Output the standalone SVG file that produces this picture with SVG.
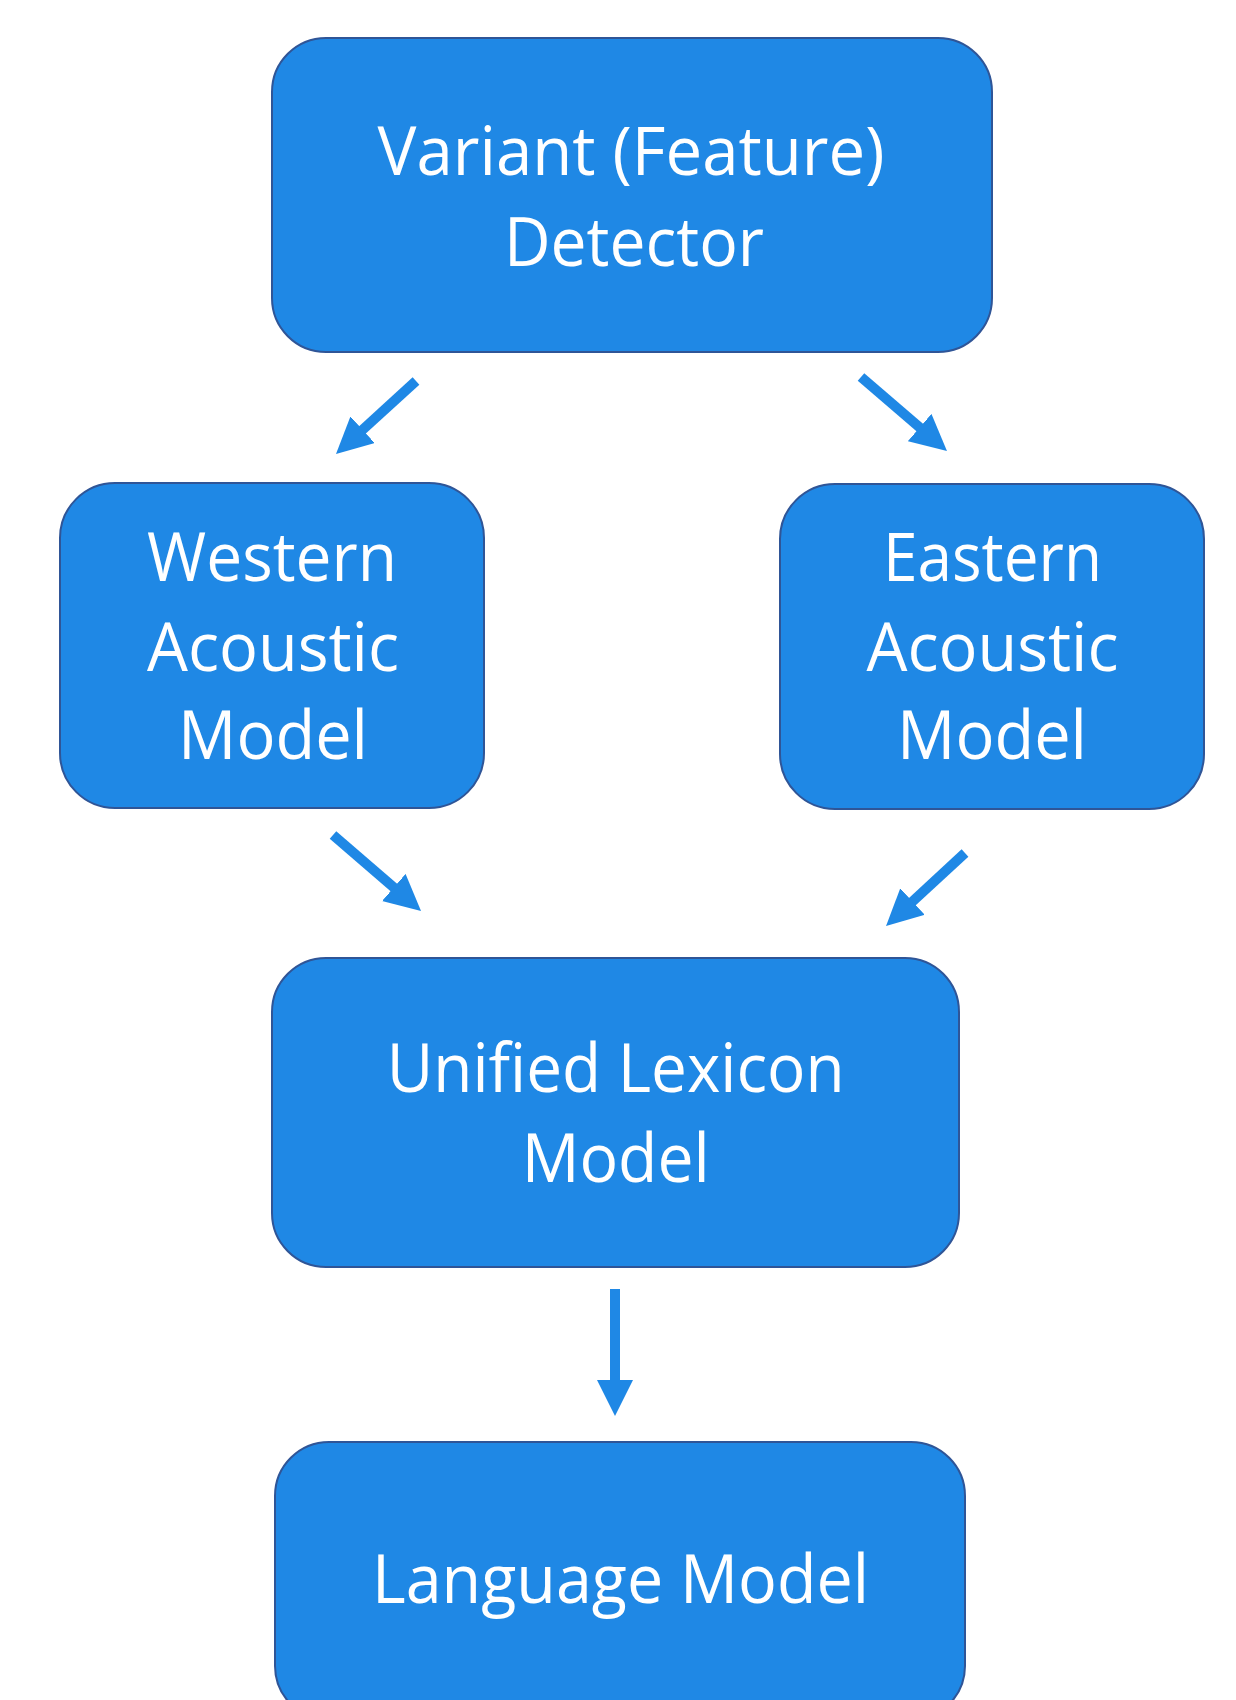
<svg xmlns="http://www.w3.org/2000/svg" width="1236" height="1700" viewBox="0 0 1236 1700">
<style>
.box{fill:#1F88E5;stroke:#2F5597;stroke-width:2}
.lbl{font-family:"Open Sans","Noto Sans",sans-serif;font-size:67px;fill:#FFFFFF;text-anchor:middle}
.arr{stroke:#1F88E5;stroke-width:10;fill:none;marker-end:url(#ah)}
</style>
<defs>
<marker id="ah" markerUnits="userSpaceOnUse" markerWidth="36" markerHeight="36" viewBox="0 0 36 36" refX="2" refY="18" orient="auto">
<path d="M0,0 L36,18 L0,36 z" fill="#1F88E5"/>
</marker>
</defs>
<rect width="1236" height="1700" fill="#FFFFFF"/>
<g id="detector">
<rect class="box" x="272" y="38" width="720" height="314" rx="54" ry="54"/>
<text class="lbl" x="631" y="175" textLength="507" lengthAdjust="spacingAndGlyphs">Variant (Feature)</text>
<text class="lbl" x="634" y="266" textLength="260" lengthAdjust="spacingAndGlyphs">Detector</text>
</g>
<g id="western">
<rect class="box" x="60" y="483" width="424" height="325" rx="55" ry="55"/>
<text class="lbl" x="272" y="581" textLength="250" lengthAdjust="spacingAndGlyphs">Western</text>
<text class="lbl" x="273" y="671" textLength="252" lengthAdjust="spacingAndGlyphs">Acoustic</text>
<text class="lbl" x="273" y="759" textLength="190" lengthAdjust="spacingAndGlyphs">Model</text>
</g>
<g id="eastern">
<rect class="box" x="780" y="484" width="424" height="325" rx="55" ry="55"/>
<text class="lbl" x="992.5" y="581" textLength="219" lengthAdjust="spacingAndGlyphs">Eastern</text>
<text class="lbl" x="992.5" y="671" textLength="252" lengthAdjust="spacingAndGlyphs">Acoustic</text>
<text class="lbl" x="992" y="759" textLength="190" lengthAdjust="spacingAndGlyphs">Model</text>
</g>
<g id="unified">
<rect class="box" x="272" y="958" width="687" height="309" rx="54" ry="54"/>
<text class="lbl" x="615.7" y="1092" textLength="458" lengthAdjust="spacingAndGlyphs">Unified Lexicon</text>
<text class="lbl" x="615.7" y="1182" textLength="188" lengthAdjust="spacingAndGlyphs">Model</text>
</g>
<g id="language">
<rect class="box" x="275" y="1442" width="690" height="278" rx="54" ry="54"/>
<text class="lbl" x="620.5" y="1603" textLength="497" lengthAdjust="spacingAndGlyphs">Language Model</text>
</g>
<g id="connectors">
<line class="arr" x1="416" y1="381" x2="361.1" y2="431.1"/>
<line class="arr" x1="861" y1="377" x2="921.2" y2="428.8"/>
<line class="arr" x1="333" y1="835" x2="395.3" y2="888.8"/>
<line class="arr" x1="965" y1="853" x2="911" y2="902.9"/>
<line class="arr" x1="615" y1="1289" x2="615" y2="1382"/>
</g>
</svg>
